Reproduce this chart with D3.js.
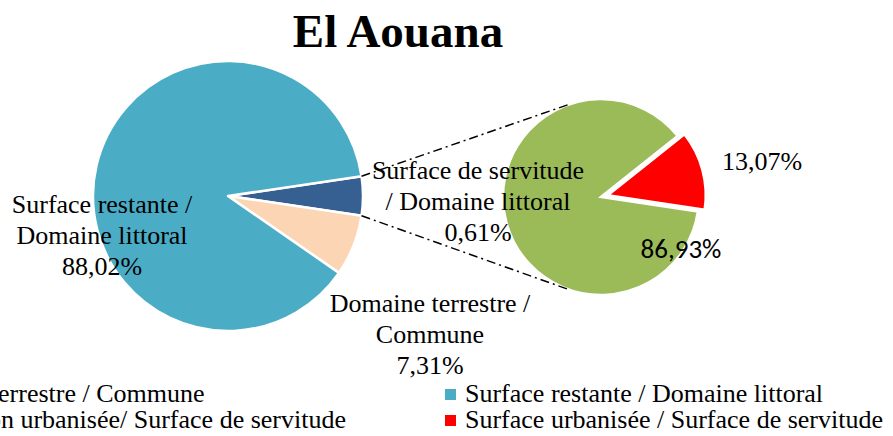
<!DOCTYPE html>
<html>
<head>
<meta charset="utf-8">
<script src="https://cdn.jsdelivr.net/npm/d3@7"></script>
<style>
body { margin: 0; background: #fff; overflow: hidden; }
text { font-family: "Liberation Serif", "Times New Roman", serif; fill: #000; }
</style>
</head>
<body>
<div id="chart-area"></div>
<script>

var title = "El Aouana";

// primary pie
var mainNames = ["Surface de servitude / Domaine littoral", "Domaine terrestre / Commune", "Surface restante / Domaine littoral"];
var mainValues = [4.67, 7.31, 88.02];
var mainColors = ["#376092", "#FCD5B5", "#4BACC6"];
var mainLabels = [
    ["Surface de servitude", "/ Domaine littoral", "0,61%"],
    ["Domaine terrestre /", "Commune", "7,31%"],
    ["Surface restante /", "Domaine littoral", "88,02%"]
];

// secondary pie (split of the servitude slice)
var subNames = ["Surface urbanisée / Surface de servitude", "Surface non urbanisée/ Surface de servitude"];
var subValues = [13.07, 86.93];
var subColors = ["#FF0000", "#9BBB59"];
var subLabels = ["13,07%", "86,93%"];

// legend
var legendNames = ["Domaine terrestre / Commune", "Surface restante / Domaine littoral",
    "Surface non urbanisée/ Surface de servitude", "Surface urbanisée / Surface de servitude"];
var legendColors = ["#FCD5B5", "#4BACC6", "#9BBB59", "#FF0000"];


function PieOfPie(){
    this.initVis();
}

PieOfPie.prototype.initVis = function(){
    var vis = this;

    vis.width = 893;
    vis.height = 436;

    vis.svg = d3.select("#chart-area").append("svg")
        .attr("width", vis.width)
        .attr("height", vis.height);

    vis.main = {cx: 228, cy: 196, r: 135};
    vis.sub = {cx: 601, cy: 197, r: 98, explode: 7};

    vis.updateVis();
}

PieOfPie.prototype.updateVis = function(){
    var vis = this;
    var toRad = Math.PI / 180;

    // title
    vis.svg.append("text")
        .attr("x", 398)
        .attr("y", 47)
        .attr("text-anchor", "middle")
        .style("font-size", "47px")
        .style("font-weight", "bold")
        .text(title);

    // primary pie, "other" slice centred on the right
    var otherSpan = mainValues[0] / d3.sum(mainValues) * 2 * Math.PI;
    var mainStart = Math.PI / 2 - otherSpan / 2;
    var mainPie = d3.pie().sort(null).value(d => d)
        .startAngle(mainStart)
        .endAngle(mainStart + 2 * Math.PI);
    var mainArc = d3.arc().innerRadius(0).outerRadius(vis.main.r);
    var mainData = mainPie(mainValues);

    var gMain = vis.svg.append("g")
        .attr("transform", "translate(" + vis.main.cx + "," + vis.main.cy + ")");

    gMain.selectAll(".main-slice")
        .data(mainData)
        .enter()
        .append("path")
        .attr("class", "main-slice")
        .attr("d", mainArc)
        .attr("fill", (d, i) => mainColors[i])
        .attr("stroke", "#fff")
        .attr("stroke-width", 2.5)
        .attr("stroke-linejoin", "round");

    // secondary pie
    var redSpan = subValues[0] / d3.sum(subValues) * 2 * Math.PI;
    var subStart = 75 * toRad - redSpan / 2;
    var subPie = d3.pie().sort(null).value(d => d)
        .startAngle(subStart)
        .endAngle(subStart + 2 * Math.PI);
    var subArc = d3.arc().innerRadius(0).outerRadius(vis.sub.r);
    var subData = subPie(subValues);

    var gSub = vis.svg.append("g")
        .attr("transform", "translate(" + vis.sub.cx + "," + vis.sub.cy + ")");

    gSub.selectAll(".sub-slice")
        .data(subData)
        .enter()
        .append("path")
        .attr("class", "sub-slice")
        .attr("d", subArc)
        .attr("fill", (d, i) => subColors[i])
        .attr("stroke", "#fff")
        .attr("stroke-width", 2.5)
        .attr("transform", function(d, i){
            if (i != 0) return null;
            var mid = (d.startAngle + d.endAngle) / 2;
            return "translate(" + (Math.sin(mid) * vis.sub.explode) + "," + (-Math.cos(mid) * vis.sub.explode) + ")";
        });

    // connector lines from the "other" slice to the secondary pie
    var other = mainData[0];
    function pt(c, r, a){ return [c.cx + r * Math.sin(a), c.cy - r * Math.cos(a)]; }
    var links = [
        [pt(vis.main, vis.main.r, other.startAngle), pt(vis.sub, vis.sub.r, -18 * toRad)],
        [pt(vis.main, vis.main.r, other.endAngle), pt(vis.sub, vis.sub.r, 198 * toRad)]
    ];
    vis.svg.selectAll(".link")
        .data(links)
        .enter()
        .append("line")
        .attr("class", "link")
        .attr("x1", d => d[0][0])
        .attr("y1", d => d[0][1])
        .attr("x2", d => d[1][0])
        .attr("y2", d => d[1][1])
        .attr("stroke", "#000")
        .attr("stroke-width", 1.5)
        .attr("stroke-dasharray", "9,4,2,4");

    // data labels
    var labelPos = [{x: 478, y: 179}, {x: 430, y: 312}, {x: 102, y: 213}];
    mainLabels.forEach(function(lines, i){
        var t = vis.svg.append("text")
            .attr("text-anchor", "middle")
            .style("font-size", "26px");
        lines.forEach(function(l, j){
            t.append("tspan")
                .attr("x", labelPos[i].x)
                .attr("y", labelPos[i].y + j * 31)
                .text(l);
        });
    });

    vis.svg.append("text")
        .attr("x", 762)
        .attr("y", 170)
        .attr("text-anchor", "middle")
        .style("font-size", "26px")
        .text(subLabels[0]);

    vis.svg.append("text")
        .attr("x", 681)
        .attr("y", 258)
        .attr("text-anchor", "middle")
        .style("font-family", "Carlito, Lato, sans-serif")
        .style("font-size", "27px")
        .text(subLabels[1]);

    // legend (first column runs off the left edge)
    var legend = vis.svg.selectAll(".legend-item")
        .data(legendNames)
        .enter()
        .append("g")
        .attr("class", "legend-item")
        .attr("transform", (d, i) => "translate(" + (i % 2 == 0 ? -131 : 445) + "," + (Math.floor(i / 2) * 26 + 389) + ")");

    legend.append("rect")
        .attr("width", 11)
        .attr("height", 11)
        .attr("fill", (d, i) => legendColors[i]);

    legend.append("text")
        .attr("x", 20)
        .attr("y", 13)
        .style("font-size", "26px")
        .text(d => d);
}

new PieOfPie();

</script>
</body>
</html>
